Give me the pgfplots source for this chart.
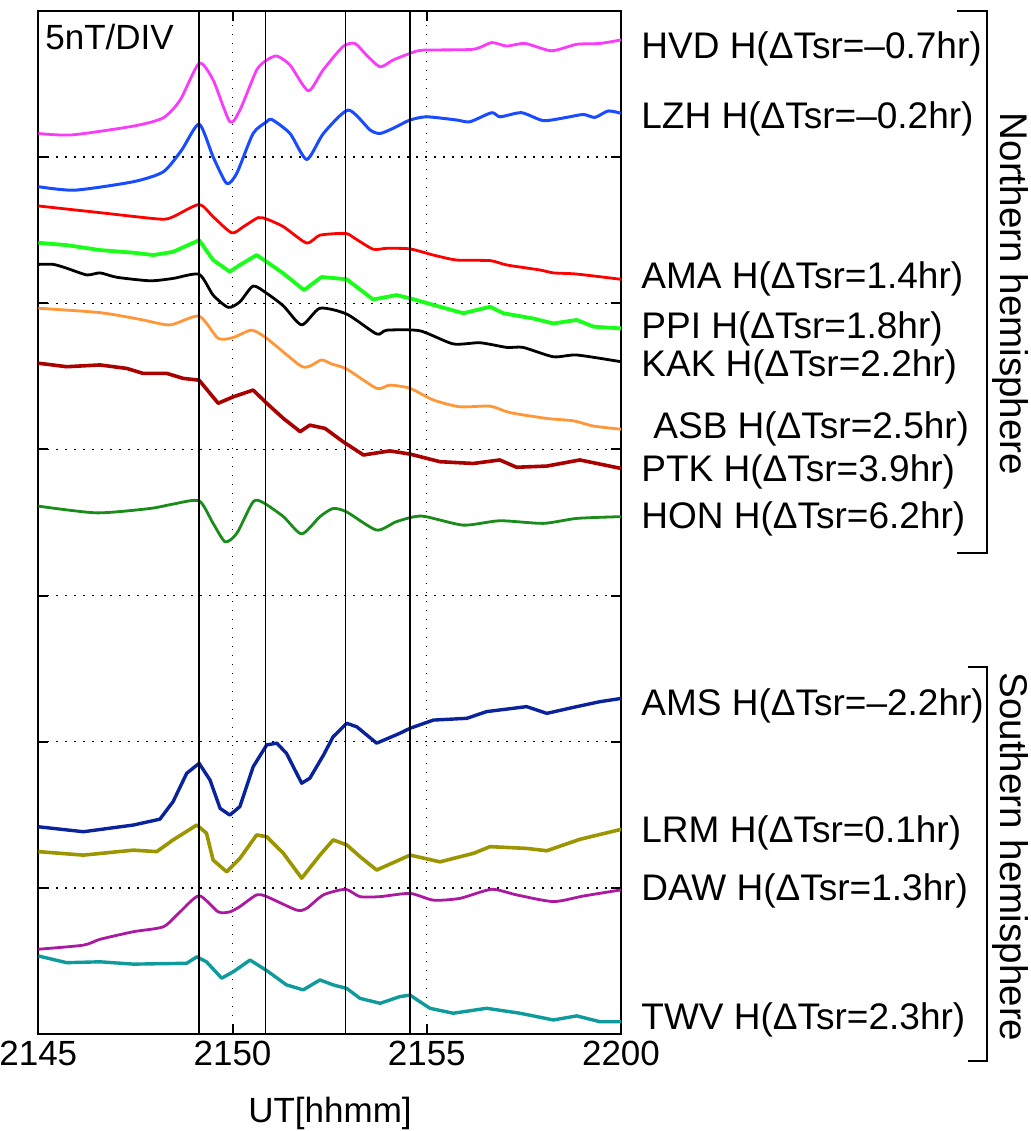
\documentclass[border=0pt]{standalone}
\usepackage{fontspec}
\setmainfont{Liberation Sans}
\usepackage{pgfplots}
\pgfplotsset{compat=1.18}

\definecolor{cHVD}{RGB}{250,60,250}
\definecolor{cLZH}{RGB}{25,75,255}
\definecolor{cAMA}{RGB}{255,0,0}
\definecolor{cPPI}{RGB}{25,255,25}
\definecolor{cKAK}{RGB}{0,0,0}
\definecolor{cASB}{RGB}{255,150,55}
\definecolor{cPTK}{RGB}{170,0,0}
\definecolor{cHON}{RGB}{25,140,25}
\definecolor{cAMS}{RGB}{10,35,155}
\definecolor{cLRM}{RGB}{155,150,0}
\definecolor{cDAW}{RGB}{170,25,160}
\definecolor{cTWV}{RGB}{15,155,155}

\newcommand{\lbl}{\fontsize{17.5}{21}\selectfont}
\newcommand{\stn}{\fontsize{18.5}{22}\selectfont}
\newcommand{\hemi}{\fontsize{19.3}{23}\selectfont}

\begin{document}
\begin{tikzpicture}
\useasboundingbox (0,0) rectangle (515pt,565.5pt);
\begin{axis}[
  at={(19.15pt,48.5pt)}, anchor=south west,
  width=291.35pt, height=511.5pt, scale only axis,
  xmin=0, xmax=15, ymin=0, ymax=35,
  xtick={0,5,10,15}, xticklabels={2145,2150,2155,2200},
  ytick={0,5,...,35}, yticklabels={},
  tick align=inside, major tick length=5pt,
  every tick/.style={black, line width=1pt},
  axis line style={line width=1pt},
  grid=major,
  major grid style={black, line width=0.7pt, dash pattern=on 0.7pt off 3.8pt},
  xticklabel style={font=\lbl},
  every axis plot/.append style={line join=round},
]
% magnetograms, H component, offset per station (nT)
\addplot[cHVD, line width=1.4pt, smooth, tension=0.4] coordinates {
(0,30.81)(0.86,30.76)(2.44,31.06)(3.21,31.34)(3.65,31.95)(4.14,33.21)(4.50,32.64)
(4.93,31.21)(5.19,31.61)(5.62,32.98)(5.88,33.32)(6.14,33.46)(6.48,33.15)(6.95,32.27)
(7.33,32.98)(7.84,33.78)(8.15,33.89)(8.45,33.49)(8.80,33.09)(9.13,33.32)(9.57,33.55)
(9.90,33.66)(11.19,33.69)(11.67,33.92)(12.06,33.80)(12.53,33.89)(13.21,33.64)
(13.86,33.86)(14.46,33.89)(15,34.01)};
\addplot[cLZH, line width=1.5pt, smooth, tension=0.4] coordinates {
(0,28.99)(0.94,28.87)(2.45,29.16)(3.22,29.50)(3.69,30.24)(4.14,31.13)(4.50,30.01)
(4.85,29.10)(5.11,29.45)(5.53,30.81)(5.88,31.21)(6.01,31.29)(6.48,30.81)(6.91,29.92)
(7.34,30.81)(7.98,31.61)(8.54,30.93)(8.80,30.81)(9.14,30.99)(9.57,31.27)(10.0,31.38)
(10.77,31.27)(11.11,31.21)(11.67,31.52)(11.89,31.38)(12.44,31.52)(13.0,31.25)
(13.60,31.36)(14.03,31.46)(14.33,31.36)(14.67,31.58)(15,31.50)};
\addplot[cAMA, line width=1.4pt, smooth, tension=0.4] coordinates {
(0,28.33)(1.59,28.10)(3.13,27.88)(3.47,27.96)(4.14,28.38)(4.50,27.96)(4.98,27.41)
(5.28,27.62)(5.66,27.93)(5.88,27.88)(6.31,27.62)(6.91,27.06)(7.25,27.33)(7.91,27.39)
(8.15,27.22)(8.62,26.85)(8.97,26.88)(9.57,26.86)(10.17,26.65)(10.77,26.48)(11.63,26.46)
(12.06,26.31)(12.91,26.14)(13.26,26.04)(13.86,26.0)(15,25.82)};
\addplot[cPPI, line width=1.9pt] coordinates {
(0,27.07)(0.73,26.99)(1.59,26.82)(2.45,26.73)(2.96,26.65)(3.47,26.76)(4.14,27.16)
(4.50,26.48)(4.93,26.08)(5.19,26.31)(5.62,26.65)(5.88,26.42)(6.31,26.02)(6.84,25.45)
(7.29,25.90)(7.94,25.82)(8.62,25.13)(9.22,25.28)(9.57,25.17)(10.34,24.88)(10.94,24.66)
(11.63,24.88)(11.97,24.66)(12.74,24.48)(13.26,24.31)(13.86,24.43)(14.29,24.20)(15,24.14)};
\addplot[cKAK, line width=1.4pt, smooth, tension=0.4] coordinates {
(0,26.33)(0.39,26.33)(0.73,26.20)(1.25,25.97)(1.59,26.04)(2.02,25.89)(2.88,25.77)
(3.47,25.85)(4.14,25.99)(4.50,25.28)(4.89,24.86)(5.19,25.05)(5.53,25.59)(5.88,25.34)
(6.31,24.91)(6.78,24.26)(7.25,24.83)(7.94,24.63)(8.71,23.95)(8.97,24.08)(9.82,24.06)
(10.68,23.61)(11.37,23.65)(12.06,23.49)(12.48,23.49)(13.26,23.17)(13.86,23.23)(15,23.0)};
\addplot[cASB, line width=1.4pt, smooth, tension=0.4] coordinates {
(0,24.83)(1.59,24.68)(2.62,24.45)(3.39,24.26)(4.14,24.56)(4.63,23.80)(5.02,23.83)
(5.49,24.08)(5.88,23.80)(6.74,22.87)(6.99,22.85)(7.29,23.06)(7.56,22.92)(7.94,22.75)
(8.71,22.09)(9.05,22.20)(9.57,22.09)(10.17,21.69)(10.85,21.46)(11.63,21.48)(12.14,21.26)
(13.09,21.06)(13.77,20.98)(14.29,20.80)(15,20.69)};
\addplot[cPTK, line width=1.8pt] coordinates {
(0,22.95)(0.73,22.83)(1.59,22.89)(2.28,22.77)(2.70,22.60)(3.31,22.60)(3.73,22.43)
(4.14,22.37)(4.63,21.58)(5.02,21.80)(5.53,22.03)(5.88,21.58)(6.31,21.06)(6.74,20.61)
(6.99,20.83)(7.38,20.72)(7.85,20.26)(8.37,19.81)(9.05,19.95)(9.57,19.84)(10.34,19.58)
(11.20,19.52)(11.88,19.64)(12.31,19.39)(13.09,19.43)(13.94,19.64)(15,19.35)};
\addplot[cHON, line width=1.4pt, smooth, tension=0.4] coordinates {
(0,18.06)(1.50,17.83)(2.88,17.98)(3.47,18.13)(4.14,18.24)(4.50,17.47)(4.81,16.84)
(5.11,17.13)(5.53,18.21)(5.79,18.18)(6.31,17.70)(6.78,17.11)(7.25,17.70)(7.59,17.98)
(7.94,17.86)(8.71,17.24)(9.22,17.53)(9.87,17.72)(10.94,17.41)(11.88,17.56)(13.0,17.47)
(13.86,17.64)(15,17.70)};
\addplot[cAMS, line width=1.7pt] coordinates {
(0,7.09)(1.16,6.92)(2.45,7.15)(3.13,7.35)(3.47,7.95)(3.82,8.92)(4.14,9.26)(4.42,8.69)
(4.68,7.72)(4.93,7.49)(5.19,7.78)(5.53,9.14)(5.88,9.89)(6.14,9.95)(6.39,9.60)(6.78,8.58)
(6.99,8.75)(7.34,9.54)(7.59,10.17)(7.94,10.63)(8.20,10.51)(8.71,9.95)(9.31,10.29)
(9.57,10.46)(10.17,10.74)(11.03,10.80)(11.54,11.03)(12.57,11.20)(13.09,10.97)
(13.86,11.20)(14.46,11.37)(15,11.48)};
\addplot[cLRM, line width=1.8pt] coordinates {
(0,6.24)(1.16,6.12)(2.45,6.29)(3.05,6.24)(3.47,6.64)(4.08,7.15)(4.33,6.87)(4.50,5.95)
(4.85,5.55)(5.19,6.01)(5.62,6.81)(5.88,6.75)(6.31,6.18)(6.78,5.33)(7.25,6.12)(7.59,6.64)
(7.94,6.47)(8.28,6.07)(8.71,5.61)(9.57,6.12)(10.34,5.89)(11.20,6.18)(11.63,6.41)
(12.57,6.35)(13.09,6.27)(13.94,6.66)(15,7.0)};
\addplot[cDAW, line width=1.4pt, smooth, tension=0.4] coordinates {
(0,2.90)(1.16,3.04)(1.59,3.24)(2.45,3.50)(3.22,3.67)(3.65,4.18)(4.14,4.73)(4.63,4.18)
(4.93,4.18)(5.19,4.36)(5.62,4.76)(5.88,4.70)(6.65,4.24)(6.91,4.30)(7.34,4.76)(7.91,4.95)
(8.28,4.70)(8.80,4.70)(9.57,4.81)(10.17,4.58)(10.85,4.64)(11.67,4.95)(12.31,4.76)
(13.26,4.53)(14.03,4.72)(15,4.93)};
\addplot[cTWV, line width=1.7pt] coordinates {
(0,2.67)(0.73,2.44)(1.59,2.47)(2.45,2.39)(3.82,2.42)(4.08,2.64)(4.33,2.47)(4.72,1.91)
(5.02,2.13)(5.45,2.53)(5.88,2.17)(6.39,1.68)(6.82,1.51)(7.25,1.85)(7.59,1.68)(7.94,1.56)
(8.28,1.22)(8.80,1.05)(9.31,1.28)(9.57,1.33)(10.08,0.88)(10.68,0.71)(11.54,0.88)
(12.40,0.71)(13.26,0.48)(13.86,0.62)(14.46,0.42)(15,0.42)};
% reference times
\addplot[black, line width=0.8pt] coordinates {(4.14,0) (4.14,35)};
\addplot[black, line width=0.8pt] coordinates {(5.85,0) (5.85,35)};
\addplot[black, line width=0.8pt] coordinates {(7.91,0) (7.91,35)};
\addplot[black, line width=0.8pt] coordinates {(9.57,0) (9.57,35)};
\end{axis}

\begin{scope}[x=0.5pt, y=-0.5pt, shift={(0pt,565.5pt)}, every node/.style={inner sep=0pt}]
\node[font=\lbl, anchor=base west] at (45,50) {5nT/DIV};
\node[font=\lbl, anchor=base] at (330,1122.5) {UT[hhmm]};
\begin{scope}[every node/.append style={font=\stn, anchor=base west}]
\node at (641,58.9)  {HVD H(ΔTsr=–0.7hr)};
\node at (641,128.2) {LZH H(ΔTsr=–0.2hr)};
\node at (641,288.9) {AMA H(ΔTsr=1.4hr)};
\node at (641,338.9) {PPI H(ΔTsr=1.8hr)};
\node at (641,376.4) {KAK H(ΔTsr=2.2hr)};
\node at (653,438.9) {ASB H(ΔTsr=2.5hr)};
\node at (641,481.8) {PTK H(ΔTsr=3.9hr)};
\node at (641,528.2) {HON H(ΔTsr=6.2hr)};
\node at (641,715.2) {AMS H(ΔTsr=–2.2hr)};
\node at (641,842.2) {LRM H(ΔTsr=0.1hr)};
\node at (641,900.2) {DAW H(ΔTsr=1.3hr)};
\node at (641,1029.8) {TWV H(ΔTsr=2.3hr)};
\end{scope}
\draw[line width=0.6pt] (957,11) -- (987,11) -- (987,553) -- (957,553);
\draw[line width=0.6pt] (968,667) -- (987,667) -- (987,1061) -- (968,1061);
\node[font=\hemi, rotate=-90, anchor=base] at (1000,294) {Northern hemisphere};
\node[font=\hemi, rotate=-90, anchor=base] at (1000,857) {Southern hemisphere};
\end{scope}
\end{tikzpicture}
\end{document}
